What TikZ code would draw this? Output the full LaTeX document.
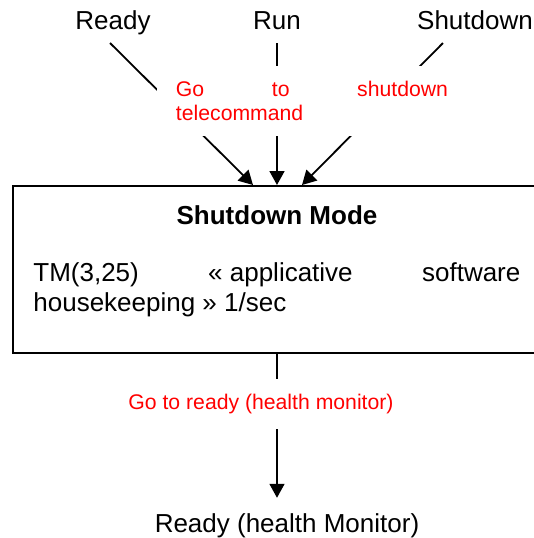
\documentclass[tikz,border=0pt]{standalone}
\usepackage{fontspec}
\setmainfont{Liberation Sans}
\usetikzlibrary{arrows.meta,positioning,calc}
\definecolor{Red}{HTML}{FF0000}
\hyphenpenalty=10000
\exhyphenpenalty=10000
\tolerance=10000
\tikzset{
  stlabel/.style={inner sep=0pt,font=\fontsize{13}{15}\selectfont},
  modebox/.style={draw=black,line width=1pt,minimum width=264pt,minimum height=83.5pt,inner sep=0pt},
  modename/.style={inner sep=0pt,font=\fontsize{13}{15}\selectfont\bfseries},
  body/.style={inner sep=0pt,text width=243.5pt,align=justify,font=\fontsize{13}{15.2}\selectfont},
  trans/.style={fill=white,text=Red,inner xsep=9.5pt,font=\fontsize{10.6}{12}\selectfont},
  arrow/.style={-{Triangle[length=7pt,width=7.5pt]},draw=black,line width=.9pt}
}

\begin{document}
\begin{tikzpicture}[x=0.5pt,y=0.5pt]
    \useasboundingbox (0,0) rectangle (534,538);
    \clip (0,0) rectangle (534,538);
    \node[stlabel,anchor=base] (ready) at (113,509) {Ready};
    \node[stlabel,anchor=base] (run) at (277,509) {Run};
    \node[stlabel,anchor=base] (shut) at (475,509) {Shutdown};
    \node[modebox] (mode) at (277,268.5) {};
    \node[modename,anchor=base] (mname) at (277,314) {Shutdown Mode};
    \node[body,anchor=north west] (tm) at (33,276) {TM(3,25) \mbox{« applicative} software \mbox{housekeeping »} 1/sec};
    \node[stlabel,anchor=base,inner ysep=8pt] (hm) at (287,5) {Ready (health Monitor)};
    \draw[arrow] ([shift={(-1.5pt,-7pt)}]ready.base) -- ([xshift=-12pt]mode.north);
    \draw[arrow] ([yshift=-7pt]run.base) -- (mode.north);
    \draw[arrow] ([shift={(-16pt,-7pt)}]shut.base) -- ([xshift=12.5pt]mode.north);
    \draw[arrow] (mode.south) -- (mode.south |- hm.north);
    \node[trans,text width=136pt,align=justify,minimum height=35pt] (gotc) at (312,437) {Go to shutdown telecommand};
    \node[trans,minimum height=25pt] (gordy) at (261,134) {Go to ready (health monitor)};
  \end{tikzpicture}
\end{document}
